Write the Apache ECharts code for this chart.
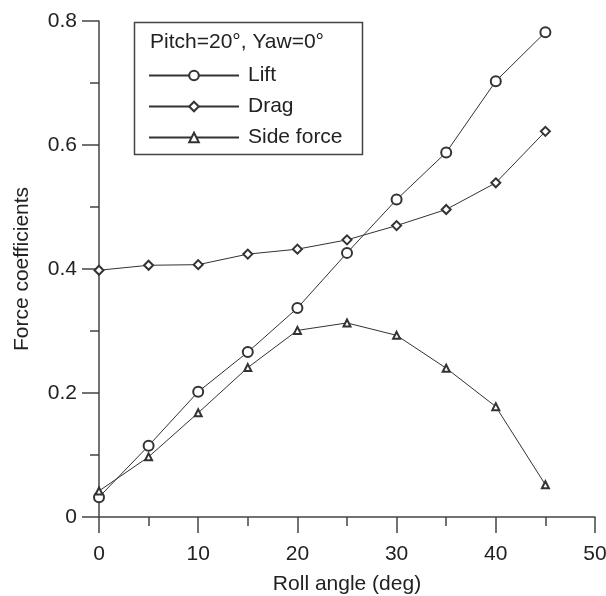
<!DOCTYPE html>
<html><head><meta charset="utf-8">
<script src="https://cdn.jsdelivr.net/npm/echarts@6/dist/echarts.min.js"></script>
<style>html,body{margin:0;padding:0;background:#fff}#c{width:606px;height:596px}</style>
</head><body><div id="c"></div>
<script>
const rollAngle = [0, 5, 10, 15, 20, 25, 30, 35, 40, 45];
const lift = [0.032, 0.115, 0.202, 0.266, 0.337, 0.426, 0.512, 0.588, 0.703, 0.782];
const drag = [0.398, 0.406, 0.407, 0.424, 0.432, 0.447, 0.470, 0.496, 0.539, 0.622];
const sideForce = [0.042, 0.097, 0.168, 0.241, 0.301, 0.313, 0.293, 0.240, 0.178, 0.052];
const legendTitle = 'Pitch=20°, Yaw=0°';

const font = 'Liberation Sans, Arial, sans-serif';
const fs = 21;
const ink = '#333';
function pairs(ys){ return rollAngle.map((x,i)=>[x, ys[i]]); }
function ser(name, data, symbol, size){
  return {name, type:'line', data:pairs(data), symbol, symbolSize:size,
    lineStyle:{color:ink,width:1}, itemStyle:{color:ink,borderColor:ink,borderWidth:1.2},
    emphasis:{disabled:true}, animation:false};
}
const chart = echarts.init(document.getElementById('c'));
chart.setOption({
  backgroundColor:'#fff',
  animation:false,
  grid:{left:99,right:11,top:21,bottom:79,containLabel:false,outerBoundsMode:'none'},
  xAxis:{type:'value',min:0,max:50,interval:10,
    name:'Roll angle (deg)',nameLocation:'middle',nameGap:57,
    nameTextStyle:{fontFamily:font,fontSize:fs,color:'#222'},
    axisLine:{lineStyle:{color:'#444',width:1.5}},
    axisTick:{length:16,lineStyle:{color:'#444',width:1.5}},
    minorTick:{show:true,splitNumber:2,length:9,lineStyle:{color:'#444',width:1.5}},
    axisLabel:{fontFamily:font,fontSize:fs,color:'#222',margin:27},
    splitLine:{show:false}},
  yAxis:{type:'value',min:0,max:0.8,interval:0.2,
    name:'Force coefficients',nameLocation:'middle',nameGap:66,
    nameTextStyle:{fontFamily:font,fontSize:fs,color:'#222'},
    axisLine:{lineStyle:{color:'#444',width:1.5}},
    axisTick:{length:17,lineStyle:{color:'#444',width:1.5}},
    minorTick:{show:true,splitNumber:2,length:9,lineStyle:{color:'#444',width:1.5}},
    axisLabel:{fontFamily:font,fontSize:fs,color:'#222',margin:22},
    splitLine:{show:false}},
  legend:{orient:'vertical',left:143,top:60,itemGap:10,itemWidth:90,itemHeight:12,
    data:['Lift','Drag','Side force'],
    textStyle:{fontFamily:font,fontSize:fs,color:'#222',padding:[0,0,0,4]},
    selectedMode:false},
  graphic:[
    {type:'rect',shape:{x:134.5,y:22.5,width:228,height:132},
     style:{fill:'#fff',stroke:'#444',lineWidth:1.5},z:-1},
    {type:'text',left:150,top:32,style:{text:legendTitle,font:fs+'px '+font,fill:'#222'}}
  ],
  series:[
    ser('Lift', lift, 'emptyCircle', 10),
    ser('Drag', drag, 'emptyDiamond', 9),
    ser('Side force', sideForce, 'emptyTriangle', 7)
  ]
});
</script></body></html>
